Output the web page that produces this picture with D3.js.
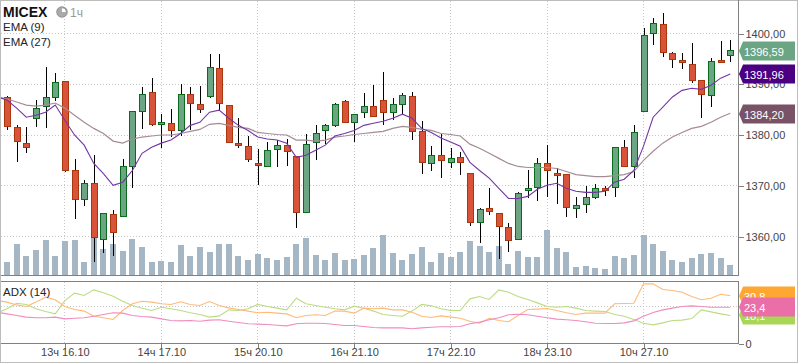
<!DOCTYPE html>
<html>
<head>
<meta charset="utf-8">
<script src="https://cdn.jsdelivr.net/npm/d3@7"></script>
<style>
  html, body { margin: 0; padding: 0; background: #fff; }
  svg { display: block; }
  text { font-family: "Liberation Sans", Arial, sans-serif; }
</style>
</head>
<body>
<svg id="chart"></svg>
<script>
const title = "MICEX";
const period = "1ч";
const priceTicks = [1400, 1390, 1380, 1370, 1360];
const timeTicks = [6, 16, 26, 36, 46, 56, 66];
const timeLabels = ["13ч 16.10", "14ч 17.10", "15ч 20.10", "16ч 21.10", "17ч 22.10", "18ч 23.10", "10ч 27.10"];

const opens = [1387.5,1381.5,1378.4,1383.3,1385.7,1387.5,1390.6,1373.2,1367.3,1370.5,1359.6,1364.5,1364.1,1373.8,1384.7,1388.4,1382.1,1382.3,1380.9,1388.0,1386.1,1387.7,1393.2,1385.9,1378.4,1377.8,1374.4,1373.8,1377.2,1378.0,1375.8,1364.9,1378.6,1380.9,1381.9,1386.7,1382.5,1384.5,1385.7,1386.9,1384.5,1386.1,1387.7,1380.7,1374.4,1376.0,1374.6,1375.6,1372.6,1362.8,1365.7,1364.7,1361.8,1359.6,1369.1,1369.7,1374.4,1372.6,1372.4,1365.7,1366.5,1367.7,1369.5,1369.7,1377.6,1373.8,1384.7,1400.1,1401.9,1396.1,1394.8,1394.0,1390.8,1387.9,1394.8,1395.8];
const highs = [1387.7,1381.9,1381.5,1386.9,1393.4,1392.2,1390.6,1375.2,1371.1,1376.0,1364.7,1365.3,1375.2,1384.7,1389.4,1391.2,1384.1,1385.1,1390.0,1389.4,1389.6,1395.9,1395.9,1385.9,1383.3,1379.8,1377.2,1378.6,1379.0,1379.2,1375.8,1380.1,1381.9,1382.1,1386.3,1386.9,1384.1,1388.2,1389.8,1392.4,1387.3,1388.2,1388.4,1382.7,1377.8,1380.1,1377.4,1376.6,1372.6,1365.7,1369.5,1364.7,1362.6,1368.7,1373.2,1375.4,1378.0,1373.4,1372.4,1367.7,1369.9,1370.3,1369.9,1377.6,1379.0,1381.9,1401.1,1403.1,1404.0,1396.3,1396.1,1398.1,1390.8,1395.2,1398.5,1398.7];
const lows = [1380.9,1374.6,1376.4,1381.5,1381.3,1386.7,1372.8,1363.4,1366.1,1354.9,1356.8,1356.2,1363.9,1369.5,1381.1,1381.7,1377.4,1379.6,1379.8,1380.9,1384.3,1387.3,1384.9,1378.4,1377.4,1374.6,1370.1,1373.6,1373.6,1373.8,1361.6,1364.7,1375.0,1378.2,1381.5,1382.3,1378.6,1383.3,1383.7,1381.9,1382.9,1384.1,1379.0,1372.4,1373.0,1371.5,1373.4,1372.2,1362.0,1358.8,1364.3,1355.5,1357.0,1359.4,1367.5,1366.9,1367.7,1366.5,1363.8,1363.6,1364.7,1367.3,1367.9,1367.7,1373.6,1371.5,1384.7,1397.7,1395.4,1393.2,1393.0,1390.2,1383.3,1385.5,1394.2,1394.4];
const closes = [1381.7,1378.8,1377.6,1385.3,1387.5,1390.4,1373.2,1367.3,1370.5,1360.0,1364.7,1360.8,1373.8,1384.7,1388.0,1382.1,1382.5,1380.9,1388.0,1386.3,1385.1,1393.4,1386.3,1378.6,1378.0,1375.2,1374.0,1377.0,1378.0,1376.8,1364.9,1378.2,1380.3,1381.9,1386.1,1382.5,1384.1,1385.7,1383.7,1384.5,1386.1,1387.9,1380.7,1374.6,1376.0,1375.0,1375.4,1374.6,1362.8,1365.5,1365.1,1362.0,1359.4,1368.5,1369.5,1374.4,1373.2,1372.2,1365.9,1366.3,1367.7,1369.5,1369.1,1377.6,1373.8,1380.5,1399.7,1402.1,1396.3,1395.0,1394.4,1390.8,1388.0,1394.6,1394.4,1396.7];
const volumes = [13,31,19,25,35,19,34,35,13,39,26,31,24,36,28,13,14,13,30,19,28,23,31,31,19,15,21,17,15,18,31,37,20,15,22,15,16,20,27,40,22,15,21,28,13,22,18,23,34,29,23,29,11,24,18,18,45,27,23,8,9,7,6,19,17,20,40,31,24,15,13,17,21,22,17,10];

// first value of each line lies one step before the first candle
const ema9 = [1387.5,1386.9,1385.3,1383.5,1383.9,1384.5,1385.9,1382.9,1380.0,1378.0,1374.4,1372.4,1370.1,1370.7,1373.0,1376.4,1377.6,1378.4,1379.0,1380.3,1381.9,1382.5,1384.5,1384.9,1383.3,1381.9,1380.9,1379.6,1379.2,1379.0,1378.4,1375.6,1376.0,1377.0,1378.0,1379.8,1380.3,1380.9,1381.9,1382.3,1382.7,1383.3,1384.1,1383.3,1381.3,1380.5,1379.4,1378.6,1377.8,1374.6,1373.0,1371.5,1369.5,1367.5,1367.5,1367.9,1369.3,1370.1,1370.5,1369.5,1368.9,1368.7,1368.7,1368.9,1370.7,1371.3,1373.0,1377.8,1383.5,1385.5,1387.5,1388.8,1389.2,1389.0,1389.8,1391.2,1392.0];
const ema27 = [1387.5,1387.1,1386.5,1385.9,1385.7,1385.9,1386.3,1385.3,1383.9,1382.5,1381.3,1380.3,1378.8,1378.4,1379.2,1379.6,1379.8,1380.0,1380.0,1380.3,1380.7,1381.1,1382.1,1382.3,1381.9,1381.5,1381.3,1380.5,1380.3,1380.1,1380.0,1379.0,1379.0,1378.8,1379.0,1379.6,1379.8,1380.1,1380.3,1380.5,1380.7,1381.3,1381.7,1381.5,1381.1,1380.9,1380.3,1380.1,1379.8,1378.2,1377.4,1376.4,1375.4,1374.4,1373.8,1373.6,1373.6,1373.6,1373.4,1372.8,1372.2,1372.0,1371.8,1371.8,1372.0,1372.2,1372.8,1375.0,1376.8,1378.4,1379.6,1380.5,1381.3,1381.7,1382.5,1383.5,1384.3];
const adxOrange = [27.7,26.7,24.9,23.9,26.7,29.9,28.2,23.9,21.9,20.9,17.6,16.6,15.5,21.3,25.6,27.3,26.7,25.6,25.2,26.9,25.2,24.5,27.1,24.5,23.0,21.9,20.9,19.8,20.2,19.6,19.1,16.6,18.1,18.5,18.1,20.9,20.9,19.6,22.8,22.4,22.8,21.7,21.7,20.2,17.6,16.8,17.8,17.0,16.3,14.4,13.1,16.3,14.8,14.0,18.1,21.9,22.2,22.6,21.3,19.8,18.7,19.6,19.6,19.6,25.6,25.8,26.0,38.5,38.5,34.8,34.2,33.1,30.3,28.2,29.2,31.8,30.8];
const adxGreen = [19.8,22.4,26.0,25.2,22.4,20.6,19.1,27.7,32.5,31.0,34.6,32.7,30.5,27.3,24.5,22.8,21.3,23.4,22.4,21.3,19.8,18.7,17.0,17.8,21.7,21.3,22.4,25.2,23.9,22.8,21.7,29.2,25.6,24.5,23.4,22.4,21.7,24.1,22.8,20.9,18.7,18.1,17.6,20.9,25.2,24.3,22.4,21.3,21.3,28.8,30.3,28.4,34.6,33.1,30.3,28.4,26.2,23.9,23.4,23.9,22.8,21.3,20.9,20.6,18.7,17.6,15.5,13.1,12.0,13.3,14.8,15.1,16.1,21.7,20.4,19.1,18.1];
const adxPink = [20.2,19.1,18.1,17.0,16.6,16.6,17.0,15.9,16.3,16.6,17.6,18.7,19.8,19.6,18.1,17.4,17.0,15.9,14.8,14.6,14.8,14.4,15.1,15.3,14.4,13.5,12.7,12.5,12.3,11.8,11.4,12.7,13.1,13.1,12.9,12.3,11.6,11.6,11.0,10.3,10.1,10.1,10.1,9.5,10.1,10.5,10.8,10.8,11.0,12.7,13.8,15.3,16.6,18.5,18.9,18.5,17.6,16.6,15.7,15.3,14.8,14.0,13.1,12.9,12.9,13.3,14.6,17.6,20.0,21.7,22.8,23.9,24.3,23.9,23.4,23.4,23.4];
const adxLevel = 24;

const width = 798;
const height = 363;
const plotRight = 738.5;
const mainBottom = 275.5;
const adxTop = 281.5;
const adxBottom = 343.5;

const green = "#6ba583";
const greenLine = "#0b6b1c";
const red = "#d9533b";
const redLine = "#a8380c";
const gridColor = "#c8c8c8";
const axisColor = "#808080";
const textColor = "#444";

const svg = d3.select("#chart").attr("width", width).attr("height", height);

const x = d3.scaleLinear().domain([0, 75]).range([7, 730.3]);
const y = d3.scaleLinear().domain([1360, 1400]).range([236.5, 33.5]);
const yVol = d3.scaleLinear().domain([0, 45]).range([mainBottom, mainBottom - 45]);
const yAdx = d3.scaleLinear().domain([0, 40]).range([adxBottom, adxBottom - 62]);

svg.append("rect").attr("x", 0.5).attr("y", 0.5).attr("width", width - 1).attr("height", height - 1)
  .attr("fill", "#fff").attr("stroke", "#bdbdbd");

svg.append("clipPath").attr("id", "mainClip").append("rect")
  .attr("x", 1).attr("y", 1).attr("width", plotRight - 1).attr("height", mainBottom - 1);
svg.append("clipPath").attr("id", "adxClip").append("rect")
  .attr("x", 1).attr("y", adxTop).attr("width", plotRight - 1).attr("height", adxBottom - adxTop);

// grid
const snap = (v) => Math.round(v - 0.5) + 0.5;
const grid = svg.append("g").attr("stroke", gridColor).attr("stroke-dasharray", "1,2").attr("shape-rendering", "crispEdges");
grid.selectAll(".h").data(priceTicks).join("line").attr("class", "h")
  .attr("x1", 1).attr("x2", plotRight).attr("y1", (d) => snap(y(d))).attr("y2", (d) => snap(y(d)));
grid.selectAll(".v").data(timeTicks).join("line").attr("class", "v")
  .attr("x1", (d) => snap(x(d))).attr("x2", (d) => snap(x(d))).attr("y1", 1).attr("y2", mainBottom);
grid.selectAll(".va").data(timeTicks).join("line").attr("class", "va")
  .attr("x1", (d) => snap(x(d))).attr("x2", (d) => snap(x(d))).attr("y1", adxTop).attr("y2", adxBottom);
grid.append("line").attr("x1", 1).attr("x2", plotRight).attr("y1", snap(yAdx(adxLevel))).attr("y2", snap(yAdx(adxLevel)));

// volume
svg.append("g").selectAll("rect").data(volumes).join("rect")
  .attr("x", (d, i) => Math.round(x(i)) - 3)
  .attr("width", 6)
  .attr("y", (d) => yVol(d) - 0.5)
  .attr("height", (d) => yVol(0) - yVol(d))
  .attr("fill", "#a5b7c5");

// candles
const candles = svg.append("g").attr("clip-path", "url(#mainClip)").attr("shape-rendering", "crispEdges");
candles.selectAll(".wick").data(opens).join("line").attr("class", "wick")
  .attr("x1", (d, i) => Math.round(x(i)) + 0.5)
  .attr("x2", (d, i) => Math.round(x(i)) + 0.5)
  .attr("y1", (d, i) => Math.round(y(highs[i])))
  .attr("y2", (d, i) => Math.round(y(lows[i])))
  .attr("stroke", "#000");
candles.selectAll(".body").data(opens).join("rect").attr("class", "body")
  .attr("x", (d, i) => Math.round(x(i)) - 2.5)
  .attr("width", 6)
  .attr("y", (d, i) => Math.round(y(Math.max(d, closes[i]))) + 0.5)
  .attr("height", (d, i) => Math.max(1, Math.round(y(Math.min(d, closes[i]))) - Math.round(y(Math.max(d, closes[i])))))
  .attr("fill", (d, i) => (closes[i] >= d ? green : red))
  .attr("stroke", (d, i) => (closes[i] >= d ? greenLine : redLine));

// moving averages
const priceLine = d3.line().x((d, i) => x(i - 1)).y((d) => y(d));
const mainLines = svg.append("g").attr("clip-path", "url(#mainClip)").attr("fill", "none");
mainLines.append("path").attr("d", priceLine(ema27)).attr("stroke", "#a48b98").attr("stroke-width", 1.2);
mainLines.append("path").attr("d", priceLine(ema9)).attr("stroke", "#7436a6").attr("stroke-width", 1.1);

// adx lines
const adxLine = d3.line().x((d, i) => x(i - 1)).y((d) => yAdx(d));
const adxLines = svg.append("g").attr("clip-path", "url(#adxClip)").attr("fill", "none").attr("stroke-width", 1.1);
adxLines.append("path").attr("d", adxLine(adxGreen)).attr("stroke", "#bcdc82");
adxLines.append("path").attr("d", adxLine(adxOrange)).attr("stroke", "#ffba78");
adxLines.append("path").attr("d", adxLine(adxPink)).attr("stroke", "#f08cbe");

// frames
const frame = svg.append("g").attr("stroke", axisColor).attr("fill", "none").attr("shape-rendering", "crispEdges");
frame.append("line").attr("x1", 1).attr("x2", plotRight).attr("y1", mainBottom).attr("y2", mainBottom);
frame.append("line").attr("x1", 1).attr("x2", plotRight).attr("y1", adxTop).attr("y2", adxTop);

// axes
const styleAxis = (g) => {
  g.select(".domain").remove();
  g.selectAll("line").attr("stroke", axisColor).attr("shape-rendering", "crispEdges");
  g.selectAll("text").attr("fill", textColor).style("font-size", "11px")
    .style("font-family", '"Liberation Sans", Arial, sans-serif');
};
svg.append("g").attr("transform", `translate(${plotRight},0)`)
  .call(d3.axisRight(y).tickValues(priceTicks).tickSize(5).tickPadding(2).tickFormat((d) => d3.format(".2f")(d).replace(".", ",")))
  .call(styleAxis);
svg.append("g").attr("transform", `translate(${plotRight},0)`)
  .call(d3.axisRight(yAdx).tickValues([0]).tickSize(5).tickPadding(2).tickFormat((d) => d))
  .call(styleAxis);
svg.append("g").attr("transform", `translate(0,${adxBottom})`)
  .call(d3.axisBottom(x).tickValues(timeTicks).tickSize(5).tickPadding(0).tickFormat((d, i) => timeLabels[i]))
  .call(styleAxis);

frame.append("line").attr("x1", plotRight).attr("x2", plotRight).attr("y1", 0).attr("y2", mainBottom).attr("stroke-width", 1);
frame.append("line").attr("x1", plotRight).attr("x2", plotRight).attr("y1", adxTop).attr("y2", adxBottom);
frame.append("line").attr("x1", 1).attr("x2", plotRight).attr("y1", adxBottom).attr("y2", adxBottom);

// value tags on the right
function drawTag(center, fill, label) {
  const top = Math.round(center) - 9.5;
  const g = svg.append("g");
  const pts = [[739, top + 9.5], [743, top], [795, top], [795, top + 19], [743, top + 19]];
  g.append("polygon").attr("points", pts.join(" ")).attr("fill", fill);
  g.append("text").attr("x", 744).attr("y", top + 14).attr("fill", "#fff").style("font-size", "11px").text(label);
}
const fmtPrice = (v) => d3.format(".2f")(v).replace(".", ",");
const fmtAdx = (v) => d3.format(".1f")(v).replace(".", ",");
drawTag(y(1396.59), green, fmtPrice(1396.59));
drawTag(y(1391.96), "#4b0082", fmtPrice(1391.96));
drawTag(y(1384.2), "#785266", fmtPrice(1384.2));
drawTag(yAdx(adxOrange[76]), "#ffa733", fmtAdx(adxOrange[76]));
drawTag(yAdx(adxGreen[76]), "#a9d654", fmtAdx(adxGreen[76]));
drawTag(yAdx(adxPink[76]), "#ea6fa9", fmtAdx(adxPink[76]));

// legend
svg.append("text").attr("x", 3).attr("y", 17).attr("fill", "#111").attr("font-weight", "bold").style("font-size", "14px").text(title);
const clock = svg.append("g").attr("transform", "translate(62,12)");
clock.append("circle").attr("r", 4.8).attr("fill", "#fff").attr("stroke", "#999").attr("stroke-width", 2);
clock.append("path").attr("d", d3.arc()({ innerRadius: 0, outerRadius: 4.5, startAngle: Math.PI / 2, endAngle: Math.PI * 2 })).attr("fill", "#aaa");
svg.append("text").attr("x", 70).attr("y", 17).attr("fill", "#999").style("font-size", "12px").text(period);
const legend = [["EMA (9)", 31], ["EMA (27)", 46], ["ADX (14)", 296]];
svg.append("g").selectAll("text").data(legend).join("text")
  .attr("x", 3).attr("y", (d) => d[1]).attr("fill", "#222").style("font-size", "11.5px").text((d) => d[0]);
</script>
</body>
</html>
